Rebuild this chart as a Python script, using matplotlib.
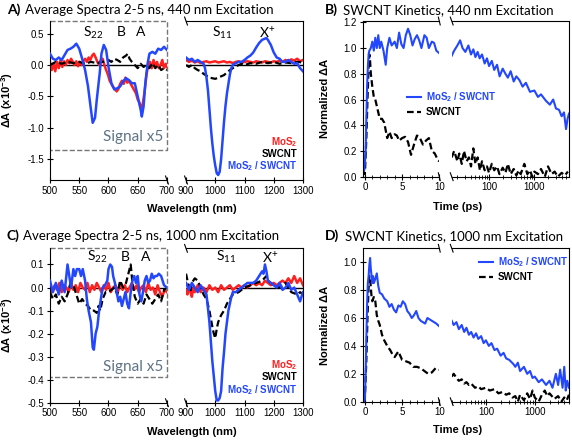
import matplotlib
matplotlib.use('Agg')
import matplotlib.pyplot as plt
from matplotlib.ticker import MultipleLocator, FixedLocator, NullFormatter

plt.rcParams['font.family'] = ['Liberation Sans', 'DejaVu Sans']
plt.rcParams['axes.unicode_minus'] = False
plt.rcParams['mathtext.fontset'] = 'custom'
plt.rcParams['mathtext.rm'] = 'Lato'
plt.rcParams['mathtext.bf'] = 'Liberation Sans:bold'

BLUE = '#2347ff'
RED = '#ff1f1f'
GREY = '#5f7384'

# ---------- panel A : 440 nm excitation spectra ----------
a_wl_blue = [500, 505, 510, 515, 520, 525, 530, 535, 540, 545, 550, 555, 560, 565, 570, 573, 577, 580,
             585, 588, 592, 596, 600, 605, 610, 615, 620, 625, 630, 635, 640, 645, 650, 655, 657, 660,
             663, 667, 670, 675, 680, 685, 690, 695, 700]
a_blue = [0.18, 0.10, 0.08, 0.12, 0.08, 0.16, 0.24, 0.26, 0.29, 0.34, 0.26, 0.10, -0.08, -0.34, -0.71,
          -0.92, -0.84, -0.55, -0.13, 0.18, 0.32, 0.24, -0.03, -0.29, -0.39, -0.37, -0.34, -0.26, -0.21,
          -0.24, -0.29, -0.29, -0.50, -0.71, -0.82, -0.66, -0.29, 0.03, 0.18, 0.21, 0.18, 0.26, 0.24,
          0.29, 0.24]
a_wl_red = [500, 503, 506, 509, 512, 515, 518, 521, 524, 527, 530, 533, 536, 539, 542, 545, 548, 551,
            554, 557, 560, 563, 566, 569, 572, 575, 578, 581, 584, 587, 590, 593, 596, 599, 602, 605,
            608, 611, 614, 617, 620, 623, 626, 629, 632, 635, 638, 641, 644, 647, 650, 653, 656, 659,
            662, 665, 668, 671, 674, 677, 680, 683, 686, 689, 692, 695, 698, 700]
a_red = [0.05, -0.08, 0.02, -0.10, 0.05, -0.05, 0.08, -0.03, 0.06, 0.00, 0.08, 0.03, 0.10, 0.05, 0.00,
         0.06, -0.02, 0.05, 0.00, 0.06, 0.10, 0.05, 0.12, 0.08, 0.15, 0.18, 0.12, 0.05, 0.00, 0.08, 0.10,
         0.00, -0.08, -0.15, -0.25, -0.30, -0.35, -0.38, -0.42, -0.38, -0.30, -0.25, -0.30, -0.20, -0.28,
         -0.25, -0.30, -0.35, -0.40, -0.45, -0.55, -0.60, -0.70, -0.60, -0.40, -0.15, 0.00, 0.05, -0.05,
         0.08, -0.02, 0.05, -0.05, 0.00, 0.08, -0.05, 0.02, -0.03]
a_wl_blk = [500, 510, 520, 530, 540, 550, 560, 570, 580, 590, 600, 605, 610, 615, 620, 625, 630, 633,
            636, 640, 645, 650, 655, 660, 665, 670, 675, 680, 685, 690, 695, 700]
a_blk = [0.00, 0.05, 0.02, 0.05, 0.03, 0.05, 0.02, 0.05, 0.03, 0.05, 0.08, 0.05, 0.10, 0.08, 0.05, 0.12,
         0.15, 0.18, 0.10, 0.05, 0.00, -0.05, 0.02, -0.03, 0.00, -0.05, 0.03, -0.05, 0.00, -0.08, -0.05,
         -0.08]

a_nir_blue_x = [900, 910, 920, 930, 940, 950, 960, 965, 970, 975, 980, 985, 990, 995, 1000, 1005, 1010,
                1015, 1020, 1025, 1030, 1035, 1040, 1045, 1050, 1055, 1060, 1070, 1080, 1090, 1100, 1110,
                1120, 1130, 1140, 1150, 1160, 1170, 1175, 1180, 1190, 1200, 1210, 1220, 1230, 1240, 1250,
                1260, 1270, 1280, 1290, 1300]
a_nir_blue = [0.12, 0.08, 0.10, 0.05, 0.08, 0.05, 0.02, -0.05, -0.20, -0.40, -0.70, -1.00, -1.25, -1.45,
              -1.60, -1.72, -1.75, -1.70, -1.50, -1.20, -0.90, -0.65, -0.45, -0.30, -0.15, -0.05, 0.00,
              0.03, 0.05, 0.05, 0.08, 0.12, 0.15, 0.20, 0.28, 0.35, 0.40, 0.42, 0.43, 0.40, 0.32, 0.20,
              0.12, 0.10, 0.05, 0.05, 0.08, 0.05, 0.02, 0.03, -0.05, -0.10]
a_nir_red_x = [900, 910, 920, 930, 940, 950, 960, 970, 980, 990, 1000, 1010, 1020, 1030, 1040, 1050, 1060,
               1070, 1080, 1090, 1100, 1110, 1120, 1130, 1140, 1150, 1160, 1170, 1180, 1190, 1200, 1210,
               1220, 1230, 1240, 1250, 1260, 1270, 1280, 1290, 1300]
a_nir_red = [0.08, 0.05, 0.07, 0.04, 0.06, 0.03, 0.05, 0.06, 0.04, 0.05, 0.06, 0.04, 0.05, 0.06, 0.04,
             0.05, 0.03, 0.05, 0.06, 0.04, 0.05, 0.06, 0.05, 0.04, 0.06, 0.05, 0.04, 0.06, 0.05, 0.04,
             0.06, 0.05, 0.07, 0.05, 0.08, 0.06, 0.09, 0.07, 0.10, 0.06, 0.08]
a_nir_blk_x = [900, 910, 920, 930, 940, 950, 960, 970, 980, 990, 1000, 1010, 1020, 1030, 1040, 1050, 1060,
               1070, 1080, 1090, 1100, 1120, 1140, 1160, 1180, 1200, 1220, 1240, 1260, 1280, 1300]
a_nir_blk = [0.00, -0.03, 0.00, -0.05, -0.08, -0.10, -0.14, -0.17, -0.20, -0.21, -0.22, -0.20, -0.18,
             -0.16, -0.12, -0.08, -0.05, -0.02, 0.00, 0.02, 0.00, 0.03, 0.02, 0.05, 0.03, 0.05, 0.02,
             0.04, 0.03, 0.05, 0.04]

# ---------- panel B : 440 nm excitation kinetics ----------
b_t_blue = [-0.3, -0.2, -0.1, 0.0, 0.1, 0.2, 0.3, 0.4, 0.5, 0.6, 0.8, 1.0, 1.2, 1.4, 1.6, 1.8, 2.0, 2.2,
            2.5, 2.8, 3.0, 3.3, 3.6, 4.0, 4.3, 4.6, 4.9, 5.2, 5.5, 5.8, 6.1, 6.4, 6.7, 7.0, 7.3, 7.6, 8.0,
            8.3, 8.6, 9.0, 9.3, 9.6, 10.0]
b_blue = [0.13, 0.15, 0.05, 0.10, 0.20, 0.45, 0.70, 0.85, 0.95, 0.98, 1.00, 1.05, 0.98, 1.08, 1.00, 1.10,
          1.00, 1.05, 0.98, 0.87, 1.00, 1.08, 1.02, 1.05, 1.00, 1.12, 1.03, 1.00, 1.10, 1.15, 1.10, 1.02,
          1.07, 1.10, 1.06, 1.00, 1.10, 1.08, 1.00, 1.05, 1.04, 0.98, 0.96]
b_t_blk = [-0.3, 0.0, 0.2, 0.35, 0.5, 0.6, 0.7, 0.8, 1.0, 1.2, 1.4, 1.6, 1.8, 2.0, 2.3, 2.6, 3.0, 3.3, 3.6,
           4.0, 4.3, 4.6, 5.0, 5.4, 5.8, 6.2, 6.6, 7.0, 7.4, 7.8, 8.2, 8.6, 9.0, 9.4, 9.8, 10.0]
b_blk = [0.05, 0.02, 0.30, 0.60, 0.85, 0.95, 0.90, 0.80, 0.70, 0.62, 0.60, 0.55, 0.50, 0.45, 0.45, 0.42,
         0.30, 0.35, 0.30, 0.33, 0.32, 0.28, 0.30, 0.31, 0.27, 0.17, 0.25, 0.32, 0.30, 0.25, 0.28, 0.30,
         0.20, 0.18, 0.13, 0.12]
b_tl_blue = [15, 17, 20, 23, 26, 30, 35, 40, 45, 50, 56, 62, 70, 80, 90, 100, 115, 130, 150, 171, 200,
             230, 260, 300, 350, 400, 470, 550, 650, 800, 1000, 1200, 1400, 1800, 2200, 2600, 3000, 3500,
             4000, 4500, 5000, 5400, 5800]
b_l_blue = [0.94, 0.98, 1.02, 1.06, 1.00, 0.97, 1.02, 0.95, 0.99, 0.93, 0.97, 0.92, 0.95, 0.88, 0.92, 0.86,
            0.90, 0.83, 0.87, 0.78, 0.84, 0.80, 0.77, 0.82, 0.74, 0.78, 0.75, 0.70, 0.73, 0.66, 0.67, 0.62,
            0.64, 0.59, 0.56, 0.60, 0.53, 0.52, 0.47, 0.50, 0.37, 0.45, 0.49]
b_tl_blk = [15, 17, 20, 22, 25, 28, 32, 36, 40, 45, 50, 56, 63, 70, 80, 90, 100, 115, 130, 150, 170, 200,
            230, 260, 300, 350, 400, 450, 500, 600, 700, 800, 900, 1000, 1200, 1400, 1700, 2000, 2400,
            2800, 3300, 4000, 4700, 5500]
b_l_blk = [0.15, 0.20, 0.12, 0.18, 0.10, 0.20, 0.12, 0.15, 0.08, 0.22, 0.10, 0.15, 0.05, 0.12, 0.05, 0.08,
           0.03, 0.10, 0.05, 0.08, 0.02, 0.07, 0.03, 0.10, 0.02, 0.06, 0.01, 0.05, 0.02, 0.10, 0.02, 0.05,
           0.00, 0.04, 0.02, 0.06, 0.00, 0.08, 0.02, 0.04, 0.00, 0.03, 0.01, 0.04]

# ---------- panel C : 1000 nm excitation spectra ----------
c_wl_blue = [500, 505, 510, 515, 520, 525, 530, 533, 536, 540, 543, 546, 550, 553, 556, 560, 563, 566,
             570, 573, 575, 578, 581, 584, 587, 590, 594, 598, 600, 603, 606, 608, 611, 614, 617, 620,
             623, 626, 629, 632, 635, 638, 641, 644, 647, 650, 653, 656, 659, 662, 665, 668, 671, 674,
             677, 680, 683, 686, 690, 695, 700]
c_blue = [0.03, -0.02, 0.02, -0.03, 0.03, -0.02, 0.10, 0.05, 0.00, 0.08, 0.05, 0.08, 0.08, 0.05, 0.08,
          0.03, -0.05, -0.10, -0.15, -0.26, -0.27, -0.20, -0.17, -0.10, -0.05, 0.00, 0.01, 0.03, 0.08,
          0.10, 0.09, 0.05, 0.02, -0.02, -0.06, -0.04, -0.08, -0.05, -0.02, -0.07, -0.09, -0.02, 0.03,
          0.05, 0.02, 0.05, -0.03, -0.06, -0.02, 0.03, 0.05, 0.02, 0.03, 0.06, 0.04, 0.05, 0.05, 0.06,
          0.05, 0.01, 0.00]
c_wl_red = [500, 504, 508, 512, 516, 520, 524, 528, 532, 536, 540, 544, 548, 552, 556, 560, 564, 568,
            572, 576, 580, 584, 588, 592, 596, 600, 604, 608, 612, 616, 620, 624, 628, 632, 636, 640,
            644, 648, 652, 656, 660, 664, 668, 672, 676, 680, 684, 688, 692, 696, 700]
c_red = [0.00, -0.02, 0.01, -0.01, 0.02, -0.02, 0.01, 0.00, -0.02, 0.02, -0.01, 0.01, -0.02, 0.02, 0.00,
         -0.01, 0.02, -0.02, 0.01, -0.01, 0.02, 0.00, -0.02, 0.01, -0.01, 0.02, -0.02, 0.00, 0.01, -0.02,
         0.02, -0.01, 0.01, -0.02, 0.00, 0.02, -0.01, 0.01, -0.02, 0.00, 0.01, -0.02, 0.02, -0.01, 0.00,
         -0.03, 0.01, -0.02, -0.04, -0.01, -0.02]
c_wl_blk = [500, 505, 510, 515, 520, 525, 530, 535, 540, 545, 550, 555, 560, 565, 570, 575, 580, 583, 586,
            590, 595, 600, 605, 610, 615, 620, 625, 630, 635, 638, 641, 645, 650, 655, 660, 665, 670, 675,
            680, 685, 690, 695, 700]
c_blk = [-0.02, -0.05, -0.03, -0.07, -0.04, -0.06, -0.03, 0.02, 0.01, -0.03, -0.07, -0.05, -0.07, -0.08,
         -0.10, -0.10, -0.11, -0.08, -0.10, -0.05, -0.02, -0.02, -0.01, 0.00, -0.03, 0.03, 0.00, 0.02, 0.07,
         0.10, 0.02, -0.04, -0.07, -0.05, -0.07, -0.03, -0.05, -0.07, -0.05, -0.03, -0.06, -0.01, 0.00]

c_nir_blue_x = [900, 910, 920, 930, 940, 950, 960, 970, 980, 990, 1000, 1005, 1010, 1015, 1020, 1025, 1030,
                1035, 1040, 1045, 1050, 1055, 1060, 1070, 1080, 1090, 1100, 1110, 1120, 1130, 1140, 1150,
                1160, 1165, 1170, 1175, 1180, 1190, 1200, 1210, 1220, 1230, 1240, 1250, 1260, 1270, 1280,
                1290, 1300]
c_nir_blue = [0.02, -0.01, 0.02, 0.00, -0.02, 0.01, -0.01, -0.03, -0.15, -0.32, -0.45, -0.49, -0.49,
              -0.48, -0.45, -0.35, -0.28, -0.20, -0.15, -0.10, -0.07, -0.04, -0.02, -0.02, -0.01, 0.00,
              0.01, 0.02, 0.02, 0.02, 0.03, 0.05, 0.07, 0.06, 0.10, 0.07, 0.03, 0.02, 0.01, 0.00, 0.02,
              -0.01, 0.00, 0.02, -0.01, 0.00, -0.03, -0.06, -0.02]
c_nir_red_x = [900, 905, 910, 915, 920, 925, 930, 940, 950, 960, 970, 980, 990, 1000, 1010, 1020, 1030,
               1040, 1050, 1060, 1070, 1080, 1090, 1100, 1110, 1120, 1130, 1140, 1150, 1160, 1170, 1180,
               1190, 1200, 1210, 1220, 1230, 1240, 1250, 1260, 1270, 1280, 1290, 1300]
c_nir_red = [-0.01, -0.03, 0.01, -0.02, -0.04, 0.00, -0.02, 0.01, -0.02, 0.00, -0.02, 0.01, -0.01, 0.00,
             -0.02, 0.01, -0.01, 0.00, 0.01, -0.01, 0.00, 0.01, 0.00, 0.01, 0.00, 0.01, 0.02, 0.01, 0.02,
             0.01, 0.03, 0.02, 0.01, 0.02, 0.01, 0.02, 0.03, 0.02, 0.04, 0.02, 0.05, 0.02, 0.04, 0.01]
c_nir_blk_x = [900, 905, 910, 915, 920, 930, 940, 950, 960, 970, 980, 990, 995, 1000, 1005, 1010, 1020,
               1030, 1040, 1050, 1060, 1080, 1100, 1120, 1140, 1160, 1175, 1180, 1200, 1220, 1240, 1260,
               1280, 1290, 1300]
c_nir_blk = [0.06, 0.03, 0.00, -0.02, 0.02, 0.04, 0.03, 0.00, -0.03, -0.05, -0.10, -0.17, -0.20, -0.22,
             -0.18, -0.15, -0.12, -0.10, -0.07, -0.05, -0.03, -0.02, 0.00, 0.01, 0.02, 0.03, 0.05, 0.03,
             0.01, 0.00, 0.02, -0.02, -0.03, -0.02, -0.03]

# ---------- panel D : 1000 nm excitation kinetics ----------
d_t_blue = [-0.3, -0.1, 0.0, 0.1, 0.2, 0.3, 0.4, 0.5, 0.6, 0.7, 0.8, 0.9, 1.0, 1.1, 1.2, 1.4, 1.6, 1.8,
            2.0, 2.3, 2.6, 3.0, 3.3, 3.6, 3.9, 4.2, 4.5, 4.8, 5.1, 5.4, 5.7, 6.0, 6.3, 6.6, 6.9, 7.2, 7.5,
            7.8, 8.1, 8.4, 8.7, 9.0, 9.3, 9.6, 10.0]
d_blue = [0.00, 0.00, 0.02, 0.20, 0.45, 0.70, 0.85, 0.90, 0.98, 1.03, 0.95, 0.90, 0.85, 0.90, 0.85, 0.88,
          0.92, 0.83, 0.78, 0.77, 0.74, 0.72, 0.68, 0.70, 0.66, 0.64, 0.69, 0.68, 0.72, 0.70, 0.65, 0.63,
          0.60, 0.62, 0.65, 0.60, 0.58, 0.57, 0.56, 0.60, 0.59, 0.58, 0.57, 0.56, 0.54]
d_t_blk = [-0.3, 0.0, 0.2, 0.35, 0.5, 0.6, 0.7, 0.8, 0.9, 1.0, 1.2, 1.4, 1.6, 1.8, 2.0, 2.3, 2.6, 3.0, 3.4,
           3.7, 4.0, 4.5, 5.0, 5.5, 6.0, 6.5, 7.0, 7.5, 8.0, 8.5, 9.0, 9.5, 10.0]
d_blk = [0.00, 0.02, 0.30, 0.60, 0.82, 0.90, 0.88, 0.82, 0.75, 0.72, 0.75, 0.72, 0.62, 0.58, 0.55, 0.48,
         0.44, 0.40, 0.37, 0.34, 0.32, 0.36, 0.30, 0.29, 0.28, 0.25, 0.25, 0.24, 0.22, 0.20, 0.21, 0.24,
         0.23]
d_tl_blue = [20, 22, 25, 28, 32, 36, 40, 45, 50, 56, 63, 70, 80, 90, 100, 115, 130, 150, 170, 200, 230,
             260, 300, 365, 400, 450, 500, 600, 700, 800, 900, 1000, 1200, 1400, 1700, 2000, 2300, 2700,
             3000, 3300, 3700, 4000, 4300, 4600, 5000]
d_l_blue = [0.58, 0.55, 0.57, 0.52, 0.55, 0.50, 0.53, 0.48, 0.50, 0.46, 0.49, 0.45, 0.47, 0.42, 0.44, 0.40,
            0.42, 0.37, 0.38, 0.33, 0.35, 0.31, 0.30, 0.27, 0.25, 0.28, 0.22, 0.25, 0.20, 0.22, 0.17, 0.18,
            0.14, 0.16, 0.12, 0.15, 0.10, 0.20, 0.12, 0.23, 0.10, 0.25, 0.08, 0.15, 0.10]
d_tl_blk = [20, 22, 25, 28, 32, 36, 40, 45, 50, 60, 70, 80, 100, 120, 150, 180, 220, 260, 300, 350, 400,
            450, 500, 600, 700, 800, 900, 1000, 1200, 1400, 1600, 1800, 2000, 2500, 3000, 3500, 4000, 4500,
            5000]
d_l_blk = [0.18, 0.20, 0.17, 0.15, 0.16, 0.13, 0.14, 0.12, 0.13, 0.10, 0.11, 0.09, 0.10, 0.08, 0.09, 0.06,
           0.07, 0.05, 0.06, 0.03, 0.04, 0.00, 0.05, 0.01, 0.06, 0.02, 0.08, 0.03, 0.00, 0.05, 0.08, 0.04,
           0.06, 0.02, 0.04, 0.00, 0.03, 0.01, 0.05]

fig = plt.figure(figsize=(5.72, 4.41), dpi=100)

TICK = dict(direction='inout', length=4, width=0.8, labelsize=7, pad=2)
DASH = (0, (3, 1.5))


def brk(ax, x, top=True):
    # small slanted break marks on the spines
    kw = dict(transform=ax.transAxes, color='k', lw=0.8, clip_on=False)
    d = 0.012
    ys = [0, 1] if top else [0]
    for y in ys:
        ax.plot([x - d, x + d], [y + 0.025, y - 0.025], **kw)


def spectra(pos_l, pos_r, ylim, yticks, ybox):
    axl = fig.add_axes(pos_l)
    axr = fig.add_axes(pos_r)
    axl.set_xlim(500, 700)
    axr.set_xlim(900, 1300)
    for ax in (axl, axr):
        ax.set_ylim(*ylim)
        ax.axhline(0, color='k', lw=1.0, zorder=1)
        ax.tick_params(**TICK)
    axl.set_yticks(yticks)
    axl.set_xticks([500, 550, 600, 650, 700])
    axr.set_xticks([900, 1000, 1100, 1200, 1300])
    axl.spines['top'].set_visible(False)
    axl.spines['right'].set_visible(False)
    axr.spines['left'].set_visible(False)
    axr.tick_params(axis='y', left=False, labelleft=False)
    # dashed "signal x5" box
    axl.plot([0, 1, 1, 0], [ylim[1], ylim[1], ybox, ybox], ls='--', color='#777777', lw=1.0,
             transform=axl.get_yaxis_transform(), clip_on=False, zorder=1)
    brk(axl, 1.0, top=False)
    brk(axr, 0.0, top=True)
    return axl, axr


def kinetics(pos_l, pos_r, ylim, xlim_log):
    axl = fig.add_axes(pos_l)
    axr = fig.add_axes(pos_r)
    axl.set_xlim(-0.3, 10)
    axr.set_xscale('log')
    axr.set_xlim(*xlim_log)
    for ax in (axl, axr):
        ax.set_ylim(*ylim)
        ax.tick_params(**TICK)
        ax.tick_params(which='minor', direction='inout', length=2.5, width=0.6)
    axl.xaxis.set_major_locator(FixedLocator([0, 5, 10]))
    axl.xaxis.set_minor_locator(MultipleLocator(1))
    axl.yaxis.set_major_locator(MultipleLocator(0.2))
    axr.xaxis.set_major_locator(FixedLocator([100, 1000]))
    axr.xaxis.set_major_formatter(plt.FuncFormatter(lambda v, p: '%d' % v))
    axr.xaxis.set_minor_formatter(NullFormatter())
    axl.spines['right'].set_visible(False)
    axr.spines['left'].set_visible(False)
    axr.tick_params(axis='y', left=False, labelleft=False)
    brk(axl, 1.0)
    brk(axr, 0.0)
    return axl, axr


def legend_text(axr, ys):
    for y, s, c in zip(ys, ['MoS$_\\mathbf{2}$', 'SWCNT', 'MoS$_\\mathbf{2}$ / SWCNT'], [RED, 'k', BLUE]):
        axr.text(0.95, y, s, transform=axr.transAxes, ha='right', va='center', color=c,
                 fontsize=7, weight='bold')


def kin_legend(ax, anchor):
    hb, = ax.plot([], [], color=BLUE, lw=1.5, label='MoS$_\\mathbf{2}$ / SWCNT')
    hk, = ax.plot([], [], color='k', lw=1.6, ls=DASH, label='SWCNT')
    fig.legend(handles=[hb, hk], loc='center left', bbox_to_anchor=anchor, frameon=False,
               labelcolor='linecolor', prop=dict(weight='bold', size=7), handlelength=1.4,
               handletextpad=0.5, labelspacing=0.35, borderpad=0, borderaxespad=0)


def peaks(axl, axr, y, xs):
    for x, s in zip(xs[:3], ['S$_{22}$', 'B', 'A']):
        axl.text(x, y, s, fontsize=10, family='Lato', ha='center', va='center')
    for x, s in zip(xs[3:], ['S$_{11}$', 'X$^{+}$']):
        axr.text(x, y, s, fontsize=10, family='Lato', ha='center', va='center')


# ---- A ----
axl, axr = spectra([0.0874, 0.5918, 0.2045, 0.3605], [0.3252, 0.5918, 0.2045, 0.3605],
                   (-1.83, 0.70), [-1.5, -1.0, -0.5, 0.0, 0.5], -1.36)
axl.plot(a_wl_red, a_red, color=RED, lw=1.8, zorder=2)
axl.plot(a_wl_blk, a_blk, color='k', lw=1.6, ls=DASH, zorder=3)
axl.plot(a_wl_blue, a_blue, color=BLUE, lw=1.8, zorder=4)
axr.plot(a_nir_red_x, a_nir_red, color=RED, lw=1.8, zorder=2)
axr.plot(a_nir_blk_x, a_nir_blk, color='k', lw=1.6, ls=DASH, zorder=3)
axr.plot(a_nir_blue_x, a_nir_blue, color=BLUE, lw=1.8, zorder=4)
axl.set_ylabel('ΔA (x10$^{\\mathbf{-3}}$)', fontsize=8, weight='bold')
axl.yaxis.set_label_coords(-0.30, 0.5)
peaks(axl, axr, 0.52, [574, 621, 655, 1023, 1177])
axl.text(0.71, -1.14, 'Signal x5', fontsize=11, family='Lato', color=GREY, ha='center', va='center',
         transform=axl.get_yaxis_transform())
legend_text(axr, [0.239, 0.164, 0.088])

# ---- B ----
axl, axr = kinetics([0.634, 0.5993, 0.134, 0.353], [0.7897, 0.5993, 0.205, 0.353], (0, 1.21), (15, 5800))
axl.plot(b_t_blk, b_blk, color='k', lw=1.6, ls=DASH)
axl.plot(b_t_blue, b_blue, color=BLUE, lw=1.5)
axr.plot(b_tl_blk, b_l_blk, color='k', lw=1.6, ls=DASH)
axr.plot(b_tl_blue, b_l_blue, color=BLUE, lw=1.5)
axl.set_ylabel('Normalized ΔA', fontsize=8, weight='bold')
axl.yaxis.set_label_coords(-0.43, 0.5)
kin_legend(axl, (0.712, 0.765))

# ---- C ----
axl, axr = spectra([0.0874, 0.0868, 0.2045, 0.350], [0.3252, 0.0868, 0.2045, 0.350],
                   (-0.5, 0.17), [-0.5, -0.4, -0.3, -0.2, -0.1, 0.0, 0.1], -0.387)
axl.plot(c_wl_red, c_red, color=RED, lw=1.8, zorder=2)
axl.plot(c_wl_blk, c_blk, color='k', lw=1.6, ls=DASH, zorder=3)
axl.plot(c_wl_blue, c_blue, color=BLUE, lw=1.8, zorder=4)
axr.plot(c_nir_red_x, c_nir_red, color=RED, lw=1.8, zorder=2)
axr.plot(c_nir_blk_x, c_nir_blk, color='k', lw=1.6, ls=DASH, zorder=3)
axr.plot(c_nir_blue_x, c_nir_blue, color=BLUE, lw=1.8, zorder=4)
axl.set_ylabel('ΔA (x10$^{\\mathbf{-3}}$)', fontsize=8, weight='bold')
axl.yaxis.set_label_coords(-0.30, 0.5)
peaks(axl, axr, 0.133, [580, 628, 663, 1036, 1187])
axl.text(0.71, -0.344, 'Signal x5', fontsize=11, family='Lato', color=GREY, ha='center', va='center',
         transform=axl.get_yaxis_transform())
legend_text(axr, [0.244, 0.168, 0.082])

# ---- D ----
axl, axr = kinetics([0.634, 0.0891, 0.134, 0.348], [0.7897, 0.0891, 0.205, 0.348], (0, 1.10), (20, 5000))
axl.plot(d_t_blk, d_blk, color='k', lw=1.6, ls=DASH)
axl.plot(d_t_blue, d_blue, color=BLUE, lw=1.5)
axr.plot(d_tl_blk, d_l_blk, color='k', lw=1.6, ls=DASH)
axr.plot(d_tl_blue, d_l_blue, color=BLUE, lw=1.5)
axl.set_ylabel('Normalized ΔA', fontsize=8, weight='bold')
axl.yaxis.set_label_coords(-0.43, 0.5)
kin_legend(axl, (0.838, 0.391))

# ---- axis labels and panel titles ----
for x, y, s in [(0.336, 0.526, 'Wavelength (nm)'), (0.800, 0.531, 'Time (ps)'),
                (0.336, 0.020, 'Wavelength (nm)'), (0.800, 0.025, 'Time (ps)')]:
    fig.text(x, y, s, ha='center', va='center', fontsize=8, weight='bold')

for x0, x1, y, tag, s in [(0.012, 0.044, 0.977, 'A)', 'Average Spectra 2-5 ns, 440 nm Excitation'),
                          (0.568, 0.600, 0.977, 'B)', 'SWCNT Kinetics, 440 nm Excitation'),
                          (0.012, 0.040, 0.465, 'C)', 'Average Spectra 2-5 ns, 1000 nm Excitation'),
                          (0.568, 0.603, 0.465, 'D)', 'SWCNT Kinetics, 1000 nm Excitation')]:
    fig.text(x0, y, tag, family='Lato', weight='bold', fontsize=10, va='center')
    fig.text(x1, y, s, family='Lato', fontsize=9.5, va='center')

fig.savefig('out.png', dpi=100)
